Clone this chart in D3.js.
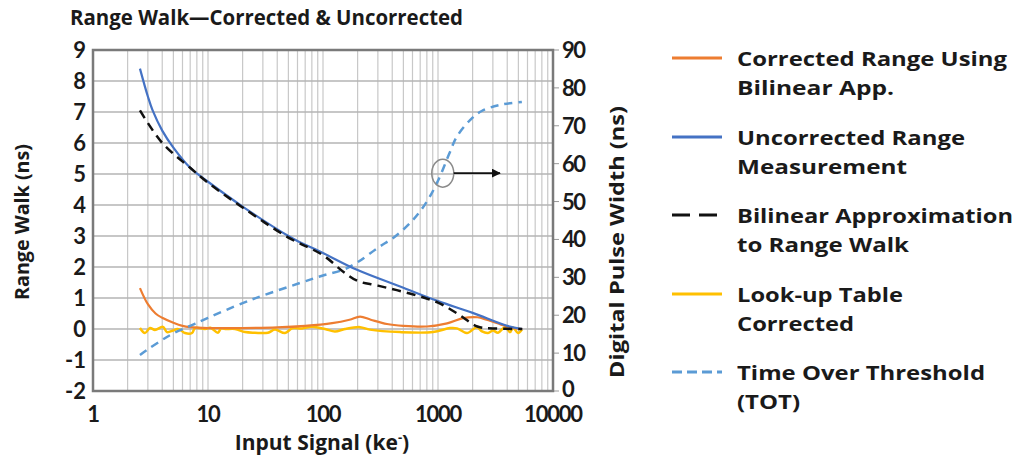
<!DOCTYPE html>
<html>
<head>
<meta charset="utf-8">
<script src="https://cdn.jsdelivr.net/npm/d3@7"></script>
<style>
  body { margin: 0; background: #fff; }
  svg text { font-family: Lato, 'Open Sans', sans-serif; font-weight: bold; fill: #1a1a1a; }
  svg text.label { font-family: 'Open Sans', Lato, sans-serif; }
</style>
</head>
<body>
<div id="app"></div>
<script>
// Series (x in ke-, left axis in ns, TOT on right axis in ns)
const uncorrectedX = [2.56, 3, 3.3, 4, 5, 7, 10, 20, 50, 63, 100, 200, 500, 1000, 2000, 4000, 5400];
const uncorrectedY = [8.4, 7.5, 7.05, 6.4, 5.85, 5.2, 4.75, 3.95, 3.0, 2.8, 2.45, 1.9, 1.33, 0.9, 0.52, 0.1, 0.0];

const bilinearX = [2.56, 4, 7, 10, 20, 50, 100, 150, 200, 300, 600, 1000, 1500, 2200, 3000, 5400];
const bilinearY = [7.05, 6.0, 5.2, 4.72, 3.92, 2.95, 2.38, 1.85, 1.55, 1.4, 1.12, 0.85, 0.48, 0.08, 0.02, 0.0];

const correctedX = [2.56, 3, 3.5, 4, 5, 6, 7, 10, 20, 40, 70, 120, 170, 210, 260, 360, 500, 800, 1200, 1650, 2200, 2650, 3500, 4200, 5400];
const correctedY = [1.32, 0.8, 0.5, 0.36, 0.2, 0.1, 0.06, 0.03, 0.03, 0.05, 0.1, 0.19, 0.3, 0.4, 0.3, 0.16, 0.1, 0.08, 0.18, 0.35, 0.38, 0.3, 0.15, 0.05, 0.0];

const lutX = [2.56, 2.83, 3.13, 3.46, 4.06, 4.4, 4.96, 5.4, 5.71, 6.31, 7.26, 7.71, 9.42, 10.5, 12.2, 13, 14.1, 17.2, 21, 25.6, 33.2, 38.3, 46.7, 53.8, 65.7, 80.2, 104, 127, 155, 210, 256, 467, 905, 1272, 1463, 1786, 2183, 2413, 2722, 3006, 3325, 3826, 4230, 4490, 4963, 5370];
const lutY = [0.03, -0.13, 0.03, -0.03, 0.07, -0.1, -0.05, 0.0, -0.02, -0.13, -0.13, 0.03, 0.0, 0.04, -0.12, 0.02, 0.0, 0.0, -0.1, -0.12, -0.12, -0.02, -0.13, 0.02, 0.02, 0.07, 0.0, -0.08, 0.0, 0.06, -0.02, -0.1, -0.1, 0.03, 0.02, -0.13, 0.06, -0.08, -0.13, -0.05, -0.12, 0.06, -0.1, 0.05, -0.13, -0.02];

const totX = [2.56, 3, 4, 5, 7, 10, 20, 30, 63, 100, 150, 200, 300, 424, 600, 800, 1000, 1260, 1450, 1900, 2400, 3450, 5360];
const totY = [9.5, 11, 13.5, 15.2, 17.2, 19.3, 23.2, 25.2, 28.5, 30.5, 32.0, 34.0, 37.8, 40.8, 45, 50, 55.5, 62.8, 67, 71.5, 73.9, 75.5, 76.3];

const xTicks = [1, 10, 100, 1000, 10000];
const leftTicks = [-2, -1, 0, 1, 2, 3, 4, 5, 6, 7, 8, 9];
const rightTicks = [0, 10, 20, 30, 40, 50, 60, 70, 80, 90];

// annotation: circle on the TOT curve and arrow pointing to the right axis
const markerAt = { x: 1100, y: 57.5 };
const arrowTo = 3460;

const legendItems = [
  { lines: ['Corrected Range Using', 'Bilinear App.'], widths: [270, 157], color: '#ED7D31', dash: null },
  { lines: ['Uncorrected Range', 'Measurement'], widths: [228, 170], color: '#4472C4', dash: null },
  { lines: ['Bilinear Approximation', 'to Range Walk'], widths: [276, 172], color: '#111', dash: '18,9' },
  { lines: ['Look-up Table', 'Corrected'], widths: [166, 117], color: '#FFC000', dash: null },
  { lines: ['Time Over Threshold', '(TOT)'], widths: [248, 63], color: '#5B9BD5', dash: '10,5' }
];

const W = 1020, H = 459;
const plot = { left: 93, top: 50, right: 553, bottom: 391 };

const svg = d3.select('#app').append('svg').attr('width', W).attr('height', H);

const x = d3.scaleLog().domain([1, 10000]).range([plot.left, plot.right]);
const yL = d3.scaleLinear().domain([-2, 9]).range([plot.bottom, plot.top]);
const yR = d3.scaleLinear().domain([0, 90]).range([plot.bottom, plot.top]);

// grid
const minor = [];
for (let d = 1; d < 10000; d *= 10) {
  for (let k = 1; k < 10; k++) minor.push(d * k);
}
svg.append('g')
  .selectAll('line')
  .data(minor.filter((v) => v > 1))
  .enter()
  .append('line')
  .attr('x1', (d) => x(d)).attr('x2', (d) => x(d))
  .attr('y1', plot.top).attr('y2', plot.bottom)
  .attr('stroke', '#c8c8c8').attr('stroke-width', 1.2);

svg.append('g')
  .selectAll('line')
  .data(leftTicks.slice(1, -1))
  .enter()
  .append('line')
  .attr('x1', plot.left).attr('x2', plot.right)
  .attr('y1', (d) => yL(d)).attr('y2', (d) => yL(d))
  .attr('stroke', '#b5b5b5').attr('stroke-width', 1.3);

// right axis ticks
svg.append('g')
  .selectAll('line')
  .data(rightTicks)
  .enter()
  .append('line')
  .attr('x1', plot.right).attr('x2', plot.right + 6)
  .attr('y1', (d) => yR(d)).attr('y2', (d) => yR(d))
  .attr('stroke', '#999').attr('stroke-width', 1);

// series
const zip = (xs, ys) => xs.map((v, i) => [v, ys[i]]);
const lineL = d3.line().x((d) => x(d[0])).y((d) => yL(d[1])).curve(d3.curveCatmullRom.alpha(0.5));
const lineR = d3.line().x((d) => x(d[0])).y((d) => yR(d[1])).curve(d3.curveCatmullRom.alpha(0.5));

const g = svg.append('g').attr('fill', 'none').attr('stroke-linecap', 'butt');
g.append('path').attr('d', lineL(zip(lutX, lutY)))
  .attr('stroke', '#FFC000').attr('stroke-width', 2.5);
g.append('path').attr('d', lineL(zip(correctedX, correctedY)))
  .attr('stroke', '#ED7D31').attr('stroke-width', 2.2);
g.append('path').attr('d', lineR(zip(totX, totY)))
  .attr('stroke', '#5B9BD5').attr('stroke-width', 2.5).attr('stroke-dasharray', '8,6');
g.append('path').attr('d', lineL(zip(uncorrectedX, uncorrectedY)))
  .attr('stroke', '#4472C4').attr('stroke-width', 2.2);
g.append('path').attr('d', lineL(zip(bilinearX, bilinearY)))
  .attr('stroke', '#111').attr('stroke-width', 2.5).attr('stroke-dasharray', '9,6');

// annotation
svg.append('defs').append('marker')
  .attr('id', 'arrow').attr('viewBox', '0 0 10 10')
  .attr('refX', 9).attr('refY', 5)
  .attr('markerWidth', 5).attr('markerHeight', 5)
  .attr('orient', 'auto')
  .append('path').attr('d', 'M0,0 L10,5 L0,10 z').attr('fill', '#111');

svg.append('ellipse')
  .attr('cx', x(markerAt.x)).attr('cy', yR(markerAt.y))
  .attr('rx', 11).attr('ry', 14)
  .attr('fill', 'none').attr('stroke', '#8a8a8a').attr('stroke-width', 1.5);
svg.append('line')
  .attr('x1', x(markerAt.x) + 11).attr('x2', x(arrowTo))
  .attr('y1', yR(markerAt.y)).attr('y2', yR(markerAt.y))
  .attr('stroke', '#111').attr('stroke-width', 1.8)
  .attr('marker-end', 'url(#arrow)');

// frame
svg.append('rect')
  .attr('x', plot.left).attr('y', plot.top)
  .attr('width', plot.right - plot.left).attr('height', plot.bottom - plot.top)
  .attr('fill', 'none').attr('stroke', '#7a7a7a').attr('stroke-width', 2.5);

// tick labels
const fs = 22;
svg.append('g')
  .selectAll('text')
  .data(leftTicks)
  .enter()
  .append('text')
  .attr('x', plot.left - 7)
  .attr('y', (d) => yL(d) + 8)
  .attr('text-anchor', 'end')
  .attr('font-size', fs)
  .text((d) => d);

svg.append('g')
  .selectAll('text')
  .data(rightTicks)
  .enter()
  .append('text')
  .attr('x', plot.right + 9)
  .attr('y', (d) => yR(d) + (d === 0 ? 6 : 8))
  .attr('text-anchor', 'start')
  .attr('font-size', fs)
  .attr('letter-spacing', -1.5)
  .text((d) => d);

svg.append('g')
  .selectAll('text')
  .data(xTicks)
  .enter()
  .append('text')
  .attr('x', (d) => x(d))
  .attr('y', 422)
  .attr('text-anchor', 'middle')
  .attr('font-size', fs)
  .attr('letter-spacing', -1.2)
  .text((d) => d);

// titles
svg.append('text')
  .attr('class', 'label')
  .attr('x', 70).attr('y', 25)
  .attr('font-size', 20.5)
  .attr('textLength', 393).attr('lengthAdjust', 'spacingAndGlyphs')
  .text('Range Walk\u2014Corrected & Uncorrected');

svg.append('text')
  .attr('class', 'label')
  .attr('transform', 'translate(29,222) rotate(-90)')
  .attr('text-anchor', 'middle')
  .attr('font-size', 20)
  .attr('textLength', 156).attr('lengthAdjust', 'spacingAndGlyphs')
  .text('Range Walk (ns)');

svg.append('text')
  .attr('class', 'label')
  .attr('transform', 'translate(624,242) rotate(-90)')
  .attr('text-anchor', 'middle')
  .attr('font-size', 20)
  .attr('textLength', 272).attr('lengthAdjust', 'spacingAndGlyphs')
  .text('Digital Pulse Width (ns)');

const xt = svg.append('text')
  .attr('class', 'label')
  .attr('x', 322).attr('y', 450)
  .attr('text-anchor', 'middle')
  .attr('font-size', 21);
xt.append('tspan').text('Input Signal (ke');
xt.append('tspan').attr('dy', -8).attr('font-size', 13).text('-');
xt.append('tspan').attr('dy', 8).text(')');

// legend
const leg = svg.append('g');
const rowY = [66, 145, 223, 302, 380];
legendItems.forEach((item, i) => {
  const y0 = rowY[i];
  leg.append('line')
    .attr('x1', 672).attr('x2', 722)
    .attr('y1', y0 - 8).attr('y2', y0 - 8)
    .attr('stroke', item.color).attr('stroke-width', 3)
    .attr('stroke-dasharray', item.dash);
  item.lines.forEach((t, j) => {
    leg.append('text')
      .attr('class', 'label')
      .attr('x', 737).attr('y', y0 + j * 29)
      .attr('font-size', 20)
      .attr('textLength', item.widths[j]).attr('lengthAdjust', 'spacingAndGlyphs')
      .text(t);
  });
});
</script>
</body>
</html>
